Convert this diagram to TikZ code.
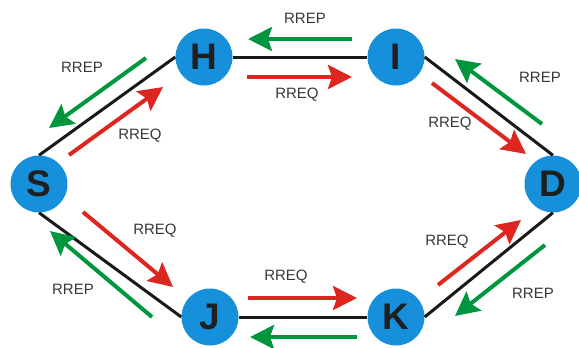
\documentclass[tikz,border=0pt]{standalone}
\usepackage{fontspec}
\setmainfont{Liberation Sans}
\usetikzlibrary{arrows.meta}
\definecolor{nodeblue}{RGB}{22,144,218}
\definecolor{reqred}{RGB}{221,38,32}
\definecolor{repgreen}{RGB}{0,150,62}
\definecolor{labelgray}{RGB}{55,55,55}
\begin{document}
\begin{tikzpicture}[x=1pt,y=-1pt,
  router/.style={circle,fill=nodeblue,minimum size=57pt,inner sep=0pt,
    font=\fontsize{37}{37}\selectfont\bfseries,text=black!88},
  link/.style={line width=3pt,black!90},
  msg/.style={line width=4pt,-{Stealth[length=24pt,width=24pt,inset=4pt]}},
  req/.style={msg,reqred},
  rep/.style={msg,repgreen},
  lbl/.style={font=\fontsize{15}{15}\selectfont,text=labelgray}]
\useasboundingbox (0,0) rectangle (579,348);

% nodes
\node[router] (S) at (39,184) {S};
\node[router] (H) at (204,57) {H};
\node[router] (I) at (396,57) {I};
\node[router] (D) at (553,184) {D};
\node[router] (J) at (210,317) {J};
\node[router] (K) at (396,317) {K};

% links
\draw[link] (S.north) -- (H.west);
\draw[link] (H.east) -- (I.west);
\draw[link] (I.east) -- (D.north);
\draw[link] (S.south) -- (J.west);
\draw[link] (J.east) -- (K.west);
\draw[link] (K.east) -- (D.south);

% arrow end points
\coordinate (hiA) at (352,39);  \coordinate (hiB) at (248,39);
\coordinate (hiC) at (247,77);  \coordinate (hiD) at (352,77);
\coordinate (jkA) at (248,298); \coordinate (jkB) at (357,298);
\coordinate (jkC) at (357,337); \coordinate (jkD) at (250,337);
\coordinate (shA) at (146,58);  \coordinate (shB) at (49,128);
\coordinate (shC) at (69,155);  \coordinate (shD) at (163,87);
\coordinate (idA) at (542,124); \coordinate (idB) at (455,59);
\coordinate (idC) at (432,83);  \coordinate (idD) at (526,154);
\coordinate (sjA) at (83,212);  \coordinate (sjB) at (173,287);
\coordinate (sjC) at (152,317); \coordinate (sjD) at (50,231);
\coordinate (kdA) at (438,285); \coordinate (kdB) at (521,220);
\coordinate (kdC) at (545,245); \coordinate (kdD) at (455,316);

% messages
\draw[rep] (hiA) -- (hiB);
\draw[req] (hiC) -- (hiD);
\draw[req] (jkA) -- (jkB);
\draw[rep] (jkC) -- (jkD);
\draw[rep] (shA) -- (shB);
\draw[req] (shC) -- (shD);
\draw[rep] (idA) -- (idB);
\draw[req] (idC) -- (idD);
\draw[req] (sjA) -- (sjB);
\draw[rep] (sjC) -- (sjD);
\draw[req] (kdA) -- (kdB);
\draw[rep] (kdC) -- (kdD);

% labels
\node[lbl] (l1) at (305,18) {RREP};
\node[lbl] (l2) at (297,95) {RREQ};
\node[lbl] (l3) at (286,277) {RREQ};
\node[lbl] (l4) at (82,67) {RREP};
\node[lbl] (l5) at (140,136) {RREQ};
\node[lbl] (l6) at (540,77) {RREP};
\node[lbl] (l7) at (450,124) {RREQ};
\node[lbl] (l8) at (155,231) {RREQ};
\node[lbl] (l9) at (73,289) {RREP};
\node[lbl] (l10) at (447,242) {RREQ};
\node[lbl] (l11) at (533,293) {RREP};
\end{tikzpicture}
\end{document}
